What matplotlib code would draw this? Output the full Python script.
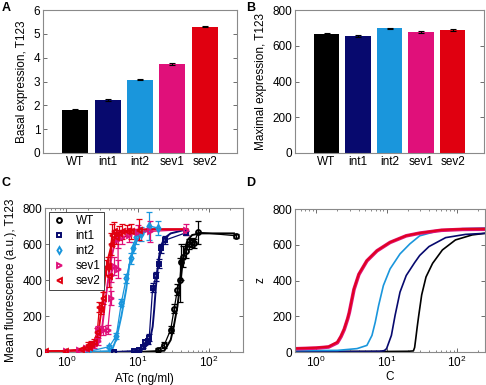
import numpy as np
import matplotlib
matplotlib.use('Agg')
import matplotlib.pyplot as plt

plt.rcParams['font.family'] = ['Liberation Sans', 'DejaVu Sans']
plt.rcParams['mathtext.default'] = 'regular'
plt.rcParams['font.size'] = 8.5

# Данi
strains = ['WT', 'int1', 'int2', 'sev1', 'sev2']
colors = ['#000000', '#07096e', '#1a96dc', '#e0107a', '#e00010']
basal = [1.82, 2.22, 3.08, 3.73, 5.30]
basal_err = [0.03, 0.03, 0.03, 0.03, 0.03]
maximal = [665, 655, 697, 677, 687]
maximal_err = [5, 5, 5, 5, 5]

# панель C: точки (ATc, флуоресценцiя, похибка)
wt_x = [19, 23.6, 29, 32.5, 36, 39, 41, 43.6, 47.5, 52, 58, 62, 70, 236]
wt_y = [13, 40, 124, 241, 346, 400, 500, 530, 560, 600, 610, 605, 665, 646]
wt_e = [10, 15, 20, 25, 30, 120, 100, 60, 40, 30, 25, 25, 65, 10]
int1_x = [4.7, 9.0, 10.5, 11.7, 12.7, 13.8, 14.5, 16.2, 18, 19.6, 21.5, 24.5, 47]
int1_y = [0, 3, 12, 30, 55, 60, 80, 356, 420, 490, 576, 622, 662]
int1_e = [5, 5, 8, 10, 10, 15, 20, 25, 25, 25, 25, 20, 10]
int2_x = [2.0, 4.0, 5.0, 5.9, 6.9, 8.0, 8.5, 9.5, 11.2, 14.5, 19]
int2_y = [2, 30, 90, 275, 410, 520, 580, 640, 655, 700, 690]
int2_e = [5, 10, 15, 20, 25, 30, 30, 40, 40, 80, 40]
sev1_x = [0.5, 1.0, 1.5, 1.9, 2.1, 2.4, 2.8, 2.8, 3.3, 3.8, 4.2, 4.2, 4.7, 5.3, 5.3, 6.0, 7.5, 10, 15, 48]
sev1_y = [5, 8, 10, 20, 25, 40, 60, 120, 120, 125, 300, 430, 480, 460, 630, 640, 650, 665, 670, 680]
sev1_e = [5, 5, 5, 10, 10, 15, 20, 25, 25, 25, 40, 40, 50, 50, 50, 40, 40, 40, 60, 30]
sev2_x = [0.5, 0.95, 1.6, 1.9, 2.0, 2.1, 2.2, 2.4, 2.7, 2.9, 3.1, 3.3, 3.6, 3.8, 4.0,
          4.2, 4.4, 4.7, 5.0, 5.5, 6.0, 7.0, 8.0, 10.5]
sev2_y = [5, 8, 15, 25, 40, 30, 45, 55, 110, 250, 240, 300, 470, 480, 420,
          600, 650, 670, 640, 660, 670, 675, 670, 680]
sev2_e = [5, 5, 8, 10, 15, 10, 15, 20, 25, 30, 30, 35, 40, 50, 60,
          60, 60, 50, 40, 40, 40, 30, 40, 60]

# панель C: пiдгонка
wt_fit_x = [10, 23.6, 29, 32, 36, 39, 42, 45.6, 50, 58, 76, 224]
wt_fit_y = [0, 7, 67, 141, 252, 363, 474, 567, 622, 650, 659, 659]
int1_fit_x = [4.7, 11.1, 14.5, 16.2, 17, 18, 19.6, 21, 23.6, 29, 45]
int1_fit_y = [0, 7, 48, 141, 233, 363, 511, 585, 632, 659, 678]
int2_fit_x = [2, 4.3, 5.0, 5.9, 6.9, 7.6, 8.5, 9.5, 11.2, 14, 19]
int2_fit_y = [1, 5, 72, 200, 350, 480, 555, 613, 650, 680, 690]
sev1_fit_x = [0.5, 1.6, 2.4, 2.9, 3.2, 3.5, 3.9, 4.3, 4.8, 5.5, 6.6, 11, 22, 50]
sev1_fit_y = [3, 8, 20, 60, 150, 280, 420, 530, 610, 650, 670, 680, 682, 682]
sev2_fit_x = [0.5, 1.5, 2.2, 2.6, 2.9, 3.2, 3.5, 3.9, 4.4, 5.0, 6, 10, 20, 50]
sev2_fit_y = [3, 8, 20, 60, 150, 280, 420, 530, 610, 650, 670, 680, 682, 682]

# панель D: модельнi кривi
d_wt_c = [0.5, 10, 20, 24, 25, 26, 27.2, 28.5, 31.5, 36.3, 45, 62, 95, 164, 250]
d_wt_z = [3, 3, 4, 6, 25, 77, 140, 200, 320, 420, 496, 571, 627, 655, 664]
d_int1_c = [0.5, 5, 8.1, 9.3, 10, 11.7, 13.2, 15.5, 19, 25, 29.5, 40, 69, 132, 250]
d_int1_z = [2, 3, 4, 8, 19, 93, 205, 335, 428, 500, 540, 590, 640, 658, 664]
d_int2_c = [0.5, 2, 3.8, 5.25, 6.2, 6.9, 7.7, 9.0, 11.2, 15.5, 21.4, 29.5, 56, 120, 250]
d_int2_z = [8, 9, 19, 37, 93, 167, 260, 372, 465, 549, 605, 650, 680, 690, 694]
d_sev1_c = [0.5, 1.0, 1.5, 2.0, 2.25, 2.5, 2.8, 2.95, 3.44, 4.04, 5.25, 7.3, 11.2, 19, 29.5, 60, 120, 250]
d_sev1_z = [18, 22, 28, 52, 86, 126, 186, 220, 350, 434, 510, 566, 613, 650, 665, 681, 686, 687]
d_sev2_c = [0.5, 1.0, 1.5, 2.0, 2.25, 2.5, 2.8, 2.95, 3.44, 4.04, 5.25, 7.3, 11.2, 19, 29.5, 60, 120, 250]
d_sev2_z = [20, 24, 30, 56, 90, 130, 190, 223, 354, 437, 512, 567, 614, 651, 666, 683, 688, 689]

fig = plt.figure(figsize=(4.86, 3.85), dpi=100)
axA = fig.add_axes([0.0885, 0.6026, 0.3992, 0.3714])
axB = fig.add_axes([0.607, 0.6026, 0.389, 0.3714])
axC = fig.add_axes([0.0926, 0.0857, 0.4074, 0.374])
axD = fig.add_axes([0.607, 0.0857, 0.391, 0.3714])


def style(ax):
    for s in ax.spines.values():
        s.set_color('#8a8a8a')
        s.set_linewidth(0.8)
    ax.tick_params(direction='in', length=3, width=0.6, color='#555555',
                   top=True, right=True, labelsize=8.5, pad=2)
    ax.tick_params(which='minor', direction='in', length=1.5, width=0.5,
                   color='#555555', top=True, right=True)


pos = np.arange(1, 6)
axA.bar(pos, basal, width=0.8, color=colors, yerr=basal_err,
        error_kw=dict(ecolor='black', capsize=2, elinewidth=0.8, capthick=0.8))
axA.set_xlim(0, 6)
axA.set_ylim(0, 6)
axA.set_xticks(pos)
axA.set_xticklabels(strains)
axA.set_ylabel('Basal expression, T123')
style(axA)
axA.tick_params(axis='x', length=0)

axB.bar(pos, maximal, width=0.8, color=colors, yerr=maximal_err,
        error_kw=dict(ecolor='black', capsize=2, elinewidth=0.8, capthick=0.8))
axB.set_xlim(0, 6)
axB.set_ylim(0, 800)
axB.set_yticks([0, 200, 400, 600, 800])
axB.set_xticks(pos)
axB.set_xticklabels(strains)
axB.set_ylabel('Maximal expression, T123')
style(axB)
axB.tick_params(axis='x', length=0)

# C
data = [
    (wt_x, wt_y, wt_e, wt_fit_x, wt_fit_y, 'o'),
    (int1_x, int1_y, int1_e, int1_fit_x, int1_fit_y, 's'),
    (int2_x, int2_y, int2_e, int2_fit_x, int2_fit_y, 'd'),
    (sev1_x, sev1_y, sev1_e, sev1_fit_x, sev1_fit_y, '>'),
    (sev2_x, sev2_y, sev2_e, sev2_fit_x, sev2_fit_y, '<'),
]
handles = []
for (x, y, e, fx, fy, m), c, name in zip(data, colors, strains):
    axC.plot(fx, fy, color=c, lw=1.4, zorder=2)
    axC.plot(x, y, color=c, lw=0.9, zorder=2)
    axC.errorbar(x, y, yerr=e, fmt='none', ecolor=c, elinewidth=0.9,
                 capsize=2, capthick=0.9, zorder=3)
    h, = axC.plot(x, y, ls='none', marker=m, ms=3.5, mec=c, mfc='none',
                  mew=1.4, color=c, zorder=4, label=name)
    handles.append(h)
axC.set_xscale('log')
axC.set_xlim(0.5, 300)
axC.set_ylim(0, 800)
axC.set_yticks([0, 200, 400, 600, 800])
axC.set_xticks([1, 10, 100])
axC.set_xlabel('ATc (ng/ml)', labelpad=2)
axC.set_ylabel('Mean fluorescence (a.u.), T123')
style(axC)
leg = axC.legend(handles=handles, loc='upper left', fontsize=8.5,
                 handlelength=1.2, handletextpad=0.8, borderpad=0.3,
                 labelspacing=0.25, fancybox=False, framealpha=1,
                 borderaxespad=0.3)
leg.get_frame().set_edgecolor('#444444')
leg.get_frame().set_linewidth(0.7)

# D
axD.plot(d_wt_c, d_wt_z, color=colors[0], lw=1.2)
axD.plot(d_int1_c, d_int1_z, color=colors[1], lw=1.2)
axD.plot(d_int2_c, d_int2_z, color=colors[2], lw=1.2)
axD.plot(d_sev1_c, d_sev1_z, color=colors[3], lw=2.6)
axD.plot(d_sev2_c, d_sev2_z, color=colors[4], lw=1.5, alpha=0.85)
axD.set_xscale('log')
axD.set_xlim(0.5, 250)
axD.set_ylim(0, 800)
axD.set_yticks([0, 200, 400, 600, 800])
axD.set_xticks([1, 10, 100])
axD.set_xlabel('C', labelpad=1)
axD.set_ylabel('z')
style(axD)

for lbl, x, y in [('A', 0.004, 0.995), ('B', 0.506, 0.995),
                  ('C', 0.004, 0.54), ('D', 0.506, 0.54)]:
    fig.text(x, y, lbl, fontsize=9, fontweight='bold', va='top', ha='left')

fig.savefig('out.png', dpi=100)
